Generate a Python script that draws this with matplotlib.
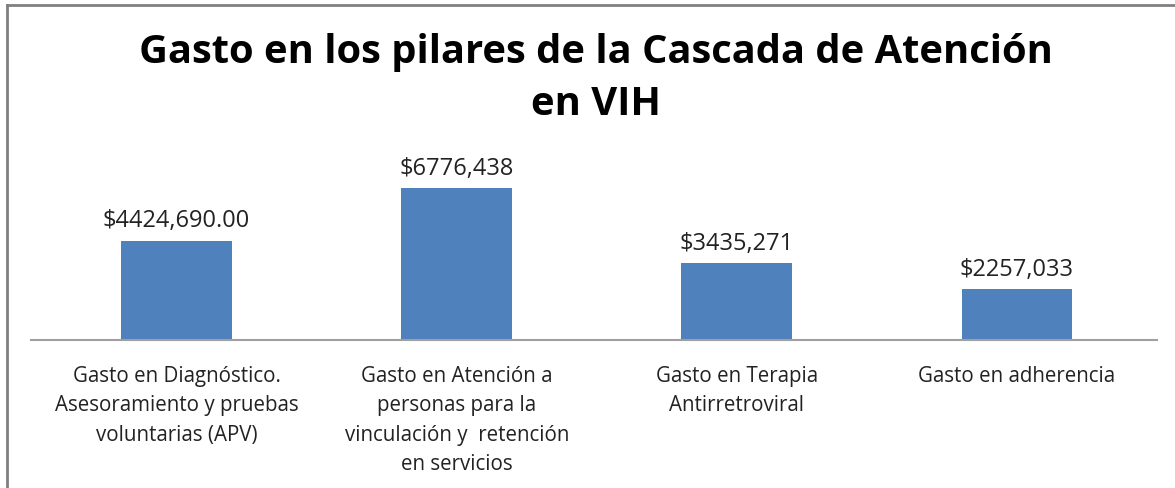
import matplotlib
matplotlib.use("Agg")
import matplotlib.pyplot as plt
from matplotlib.lines import Line2D

categories = [
    "Gasto en Diagnóstico.\nAsesoramiento y pruebas\nvoluntarias (APV)",
    "Gasto en Atención a\npersonas para la\nvinculación y  retención\nen servicios",
    "Gasto en Terapia\nAntirretroviral",
    "Gasto en adherencia",
]
values = [4424690.00, 6776438, 3435271, 2257033]
value_labels = ["$4424,690.00", "$6776,438", "$3435,271", "$2257,033"]
title = "Gasto en los pilares de la Cascada de Atención\nen VIH"

plt.rcParams['font.family'] = ['Open Sans', 'DejaVu Sans']

W, H = 1175, 489
fig = plt.figure(figsize=(W / 100, H / 100), dpi=100)
fig.patch.set_facecolor("white")

def px(x0, y0, x1, y1):
    return [x0 / W, 1 - y1 / H, (x1 - x0) / W, (y1 - y0) / H]

ax = fig.add_axes(px(31, 150.3, 1157, 341))
x = list(range(len(categories)))
ax.bar(x, values, width=0.395, color="#4F81BD")
ax.set_xlim(-0.5 - 5.5 / 280, 3.5)
ax.set_ylim(0, 8.5e6)
for xi, v, lab in zip(x, values, value_labels):
    ax.annotate(lab, (xi, v), xytext=(0, 6), textcoords="offset points",
                ha="center", va="bottom", fontsize=17, color="#222222")
ax.set_xticks(x)
ax.set_xticklabels(categories, fontsize=14.8, color="#222222", linespacing=1.52)
ax.tick_params(axis="x", length=0, pad=18)
ax.set_yticks([])
for s in ["top", "right", "left"]:
    ax.spines[s].set_visible(False)
ax.spines["bottom"].set_color("#A0A0A0")
ax.spines["bottom"].set_linewidth(1.5)

fig.text(596 / W, 1 - 78.5 / H, title, ha="center", va="center",
         fontsize=28.7, fontweight="bold", color="black", linespacing=1.45)

# chart border (top and left)
fig.add_artist(Line2D([7 / W, 1], [1 - 6 / H, 1 - 6 / H], color="#808080", lw=2, transform=fig.transFigure))
fig.add_artist(Line2D([7 / W, 7 / W], [0, 1 - 6 / H], color="#808080", lw=2, transform=fig.transFigure))

fig.savefig("out.png", dpi=100, facecolor="white")
